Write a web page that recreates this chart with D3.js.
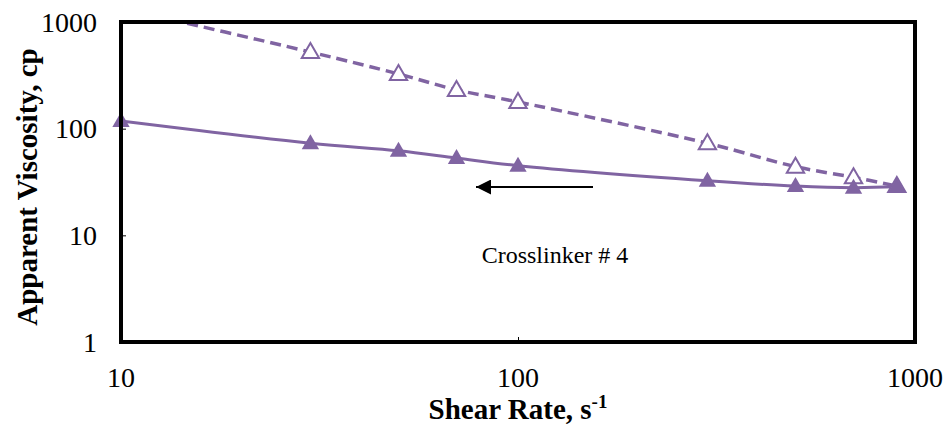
<!DOCTYPE html>
<html>
<head>
<meta charset="utf-8">
<script src="https://cdn.jsdelivr.net/npm/d3@7"></script>
<style>
  body { margin: 0; background: #fff; }
  text { font-family: "Liberation Serif", "Times New Roman", serif; }
</style>
</head>
<body>
<div id="chart"></div>
<script>
// data
const shearRate = [10, 30, 50, 70, 100, 300, 500, 700, 900];
const viscUp = [1350, 523, 326, 231, 178, 73, 44, 35, 29];      // open triangles, dashed
const viscDown = [118, 73, 62, 53, 45, 32.5, 29, 28, 28.5];     // filled triangles, solid
const xTicks = [10, 100, 1000];
const yTicks = [1, 10, 100, 1000];

const W = 948, H = 431;
const margin = {top: 22, right: 33, bottom: 89, left: 121},
    width = W - margin.left - margin.right,
    height = H - margin.top - margin.bottom;
const purple = "#8064a2";

let svg = d3.select("#chart")
  .append("svg")
    .attr("width", W)
    .attr("height", H);

let defs = svg.append("defs");

let g = svg.append("g")
    .attr("transform", "translate(" + margin.left + "," + margin.top + ")");

let x = d3.scaleLog().domain([10, 1000]).range([0, width]);
let y = d3.scaleLog().domain([1, 1000]).range([height, 0]);

defs.append("clipPath").attr("id", "clip")
  .append("rect").attr("width", width).attr("height", height);

// lines
let line = d3.line()
  .x(function(d) { return x(d[0]); })
  .y(function(d) { return y(d[1]); })
  .curve(d3.curveCatmullRom.alpha(0.5));

let plot = g.append("g").attr("clip-path", "url(#clip)");

plot.append("path")
  .datum(d3.zip(shearRate, viscUp))
  .attr("fill", "none")
  .attr("stroke", purple)
  .attr("stroke-width", 3.5)
  .attr("stroke-dasharray", "11,6")
  .attr("d", line);

plot.append("path")
  .datum(d3.zip(shearRate, viscDown))
  .attr("fill", "none")
  .attr("stroke", purple)
  .attr("stroke-width", 3)
  .attr("d", line);

// markers
let tri = d3.symbol().type(d3.symbolTriangle).size(130);

g.selectAll(".up")
  .data(d3.zip(shearRate, viscUp).filter(function(d) { return d[1] <= 1000; }))
  .enter().append("path")
  .attr("class", "up")
  .attr("d", tri)
  .attr("transform", function(d) { return "translate(" + x(d[0]) + "," + (y(d[1]) + 1) + ")"; })
  .attr("fill", "#fff")
  .attr("stroke", purple)
  .attr("stroke-width", 2);

g.selectAll(".down")
  .data(d3.zip(shearRate, viscDown))
  .enter().append("path")
  .attr("class", "down")
  .attr("d", tri)
  .attr("transform", function(d) { return "translate(" + x(d[0]) + "," + (y(d[1]) + 1) + ")"; })
  .attr("fill", purple);

// axes with inside ticks
let xAxis = d3.axisTop(x).tickValues(xTicks).tickSize(5).tickFormat("");
g.append("g")
  .attr("transform", "translate(0," + height + ")")
  .call(xAxis)
  .call(function(s) { s.select(".domain").remove(); });

let yAxis = d3.axisRight(y).tickValues(yTicks).tickSize(5).tickFormat("");
g.append("g")
  .call(yAxis)
  .call(function(s) { s.select(".domain").remove(); });

// frame
g.append("rect")
  .attr("width", width)
  .attr("height", height)
  .attr("fill", "none")
  .attr("stroke", "#000")
  .attr("stroke-width", 4);

// tick labels
g.selectAll(".xl")
  .data(xTicks)
  .enter().append("text")
  .attr("x", function(d) { return x(d); })
  .attr("y", height + 45)
  .attr("text-anchor", "middle")
  .style("font-size", "28px")
  .text(function(d) { return d; });

g.selectAll(".yl")
  .data(yTicks)
  .enter().append("text")
  .attr("x", -24)
  .attr("y", function(d) { return y(d); })
  .attr("dy", "0.35em")
  .attr("text-anchor", "end")
  .style("font-size", "28px")
  .text(function(d) { return d; });

// axis titles
let xt = svg.append("text")
  .attr("x", margin.left + width / 2)
  .attr("y", 419)
  .attr("text-anchor", "middle")
  .style("font-size", "29px")
  .style("font-weight", "bold");
xt.append("tspan").text("Shear Rate, s");
xt.append("tspan").attr("dy", -11).style("font-size", "19px").text("-1");

svg.append("text")
  .attr("transform", "translate(37,187) rotate(-90)")
  .attr("text-anchor", "middle")
  .style("font-size", "29px")
  .style("font-weight", "bold")
  .text("Apparent Viscosity, cp");

// annotation
svg.append("text")
  .attr("x", 555)
  .attr("y", 263)
  .attr("text-anchor", "middle")
  .style("font-size", "24px")
  .text("Crosslinker # 4");

// arrow
defs.append("marker")
  .attr("id", "head")
  .attr("viewBox", "0 0 10 10")
  .attr("refX", 10).attr("refY", 5)
  .attr("markerWidth", 8).attr("markerHeight", 7.5)
  .attr("markerUnits", "strokeWidth")
  .attr("orient", "auto")
  .append("path")
  .attr("d", "M0,0 L10,5 L0,10 Z")
  .attr("fill", "#000");

svg.append("line")
  .attr("x1", 593).attr("y1", 187)
  .attr("x2", 476).attr("y2", 187)
  .attr("stroke", "#000")
  .attr("stroke-width", 2)
  .attr("marker-end", "url(#head)");
</script>
</body>
</html>
